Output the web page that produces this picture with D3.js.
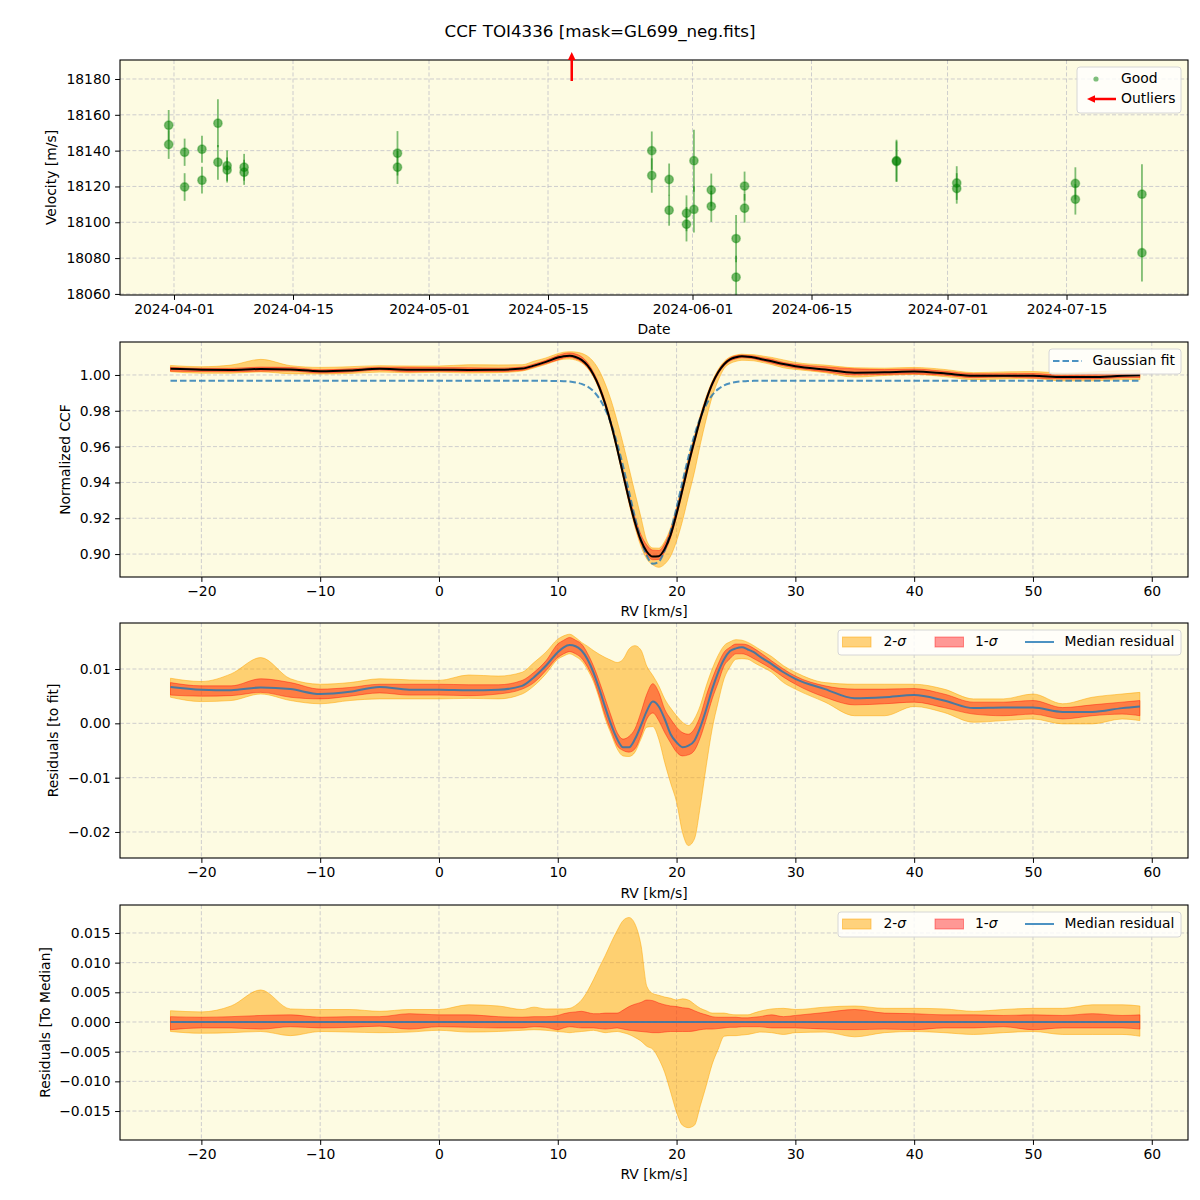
<!DOCTYPE html>
<html><head><meta charset="utf-8">
<script src="https://cdn.jsdelivr.net/npm/d3@7"></script>
<style>body{margin:0;background:#fff} svg text{font-family:"DejaVu Sans",sans-serif;fill:#000}</style>
</head><body><svg id="c" width="1200" height="1200"></svg>
<script>
// ---------- data: top panel (RV time series) ----------
const obsDates = ["2024-03-31T09:00","2024-03-31T09:00","2024-04-02T06:00","2024-04-02T06:00","2024-04-04T07:00","2024-04-04T07:00",
  "2024-04-06T04:00","2024-04-06T04:00","2024-04-07T06:00","2024-04-07T06:00","2024-04-09T06:00","2024-04-09T06:00",
  "2024-04-27T07:00","2024-04-27T07:00","2024-05-27T05:00","2024-05-27T05:00","2024-05-29T06:00","2024-05-29T06:00",
  "2024-05-31T07:00","2024-05-31T07:00","2024-06-01T04:00","2024-06-01T04:00","2024-06-03T05:00","2024-06-03T05:00",
  "2024-06-06T03:00","2024-06-06T03:00","2024-06-07T03:00","2024-06-07T03:00","2024-06-25T00:00","2024-06-25T00:00",
  "2024-07-02T02:00","2024-07-02T02:00","2024-07-16T01:00","2024-07-16T01:00","2024-07-23T21:00","2024-07-23T21:00"];
const obsRV = [18154.2,18143.4,18139.1,18119.7,18140.8,18123.5,18155.3,18133.5,18131.6,18129.2,18130.7,18127.9,
  18138.5,18130.7,18140.0,18126.1,18123.9,18106.7,18105.0,18098.9,18134.4,18107.2,18118.0,18108.9,
  18090.9,18069.3,18120.2,18107.8,18134.4,18133.9,18121.9,18118.9,18121.7,18112.8,18115.7,18083.0];
const obsErr = [8.5,8.0,7.6,7.7,7.5,7.5,13.4,9.7,8.5,7.0,7.5,7.0,12.4,9.3,10.7,9.6,8.9,8.6,10.0,9.6,17.3,12.9,9.2,8.7,
  13.2,12.0,8.1,8.0,11.7,11.3,9.4,8.5,9.0,8.5,16.7,16.0];
const outlierDates = ["2024-05-17T19:00"];
const dateTicks = ["2024-04-01","2024-04-15","2024-05-01","2024-05-15","2024-06-01","2024-06-15","2024-07-01","2024-07-15"];
const velTicks = [18060,18080,18100,18120,18140,18160,18180];

// ---------- data: CCF profiles ----------
const rvGrid = [-22.6,-20,-17.5,-15,-12.5,-10,-7.5,-5,-2.5,0,2.5,5,7,8,9,10,10.5,11,11.5,12,12.5,13,13.5,14,14.5,15,15.5,16,16.5,17,17.5,18,
  18.5,19,19.5,20,20.5,21,21.5,22,22.5,23,23.5,24,24.5,25,25.5,26,26.5,27,28,29,30,32.5,35,37.5,40,42.5,45,47.5,50,52.5,55,57.5,59];
const ccfMedian = [1.0034,1.0029,1.0028,1.0033,1.0030,1.0021,1.0025,1.0034,1.0029,1.0029,1.0028,1.0029,1.0036,1.0052,1.0073,1.0097,1.0105,1.0107,1.0100,1.0084,1.0053,1.0003,0.9931,0.9837,0.9722,0.9588,0.9445,0.9303,0.9176,0.9076,0.9013,0.8986,
  0.8988,0.9029,0.9107,0.9225,0.9360,0.9501,0.9631,0.9754,0.9861,0.9950,1.0015,1.0060,1.0087,1.0099,1.0104,1.0102,1.0098,1.0090,1.0076,1.0061,1.0049,1.0030,1.0013,1.0015,1.0019,1.0009,0.9995,0.9996,0.9996,0.9988,0.9988,0.9995,0.9998];
const gaussFit = [0.9967,0.9967,0.9967,0.9967,0.9967,0.9967,0.9967,0.9967,0.9967,0.9967,0.9967,0.9967,0.9967,0.9967,0.9967,0.9966,0.9965,0.9963,0.9958,0.9950,0.9935,0.9909,0.9868,0.9808,0.9725,0.9617,0.9489,0.9347,0.9205,0.9080,0.8990,0.8946,
  0.8957,0.9021,0.9127,0.9260,0.9404,0.9542,0.9663,0.9761,0.9835,0.9887,0.9921,0.9942,0.9954,0.9961,0.9964,0.9966,0.9967,0.9967,0.9967,0.9967,0.9967,0.9967,0.9967,0.9967,0.9967,0.9967,0.9967,0.9967,0.9967,0.9967,0.9967,0.9967,0.9967];
// residuals to fit (panel 3)
const residMedian = [0.0067,0.0062,0.0061,0.0066,0.0063,0.0054,0.0058,0.0067,0.0062,0.0062,0.0061,0.0062,0.0069,0.0085,0.0106,0.0131,0.0140,0.0144,0.0142,0.0134,0.0118,0.0094,0.0063,0.0029,-0.0003,-0.0029,-0.0044,-0.0044,-0.0029,-0.0004,0.0023,0.0040,
  0.0031,0.0008,-0.0020,-0.0035,-0.0044,-0.0041,-0.0032,-0.0007,0.0026,0.0063,0.0094,0.0118,0.0133,0.0138,0.0140,0.0136,0.0131,0.0123,0.0109,0.0094,0.0082,0.0063,0.0046,0.0048,0.0052,0.0042,0.0028,0.0029,0.0029,0.0021,0.0021,0.0028,0.0031];
const residHi2 = [0.0083,0.0077,0.0091,0.0121,0.0082,0.0072,0.0075,0.0082,0.0080,0.0079,0.0089,0.0087,0.0094,0.0112,0.0131,0.0155,0.0161,0.0164,0.0158,0.0149,0.0142,0.0134,0.0127,0.0121,0.0116,0.0112,0.0118,0.0137,0.0143,0.0135,0.0105,0.0088,
  0.0069,0.0045,0.0028,0.0014,0.0002,-0.0004,0.0008,0.0033,0.0069,0.0100,0.0125,0.0143,0.0150,0.0154,0.0153,0.0149,0.0143,0.0136,0.0123,0.0106,0.0094,0.0075,0.0072,0.0072,0.0072,0.0063,0.0045,0.0045,0.0054,0.0036,0.0048,0.0054,0.0057];
const residHi1 = [0.0075,0.0069,0.0069,0.0082,0.0075,0.0063,0.0066,0.0072,0.0072,0.0072,0.0071,0.0071,0.0079,0.0094,0.0115,0.0146,0.0153,0.0158,0.0153,0.0146,0.0129,0.0106,0.0077,0.0045,0.0013,-0.0017,-0.0029,-0.0024,-0.0010,0.0020,0.0054,0.0073,
  0.0057,0.0026,0.0008,-0.0007,-0.0017,-0.0020,-0.0010,0.0014,0.0051,0.0082,0.0109,0.0131,0.0140,0.0146,0.0146,0.0144,0.0138,0.0131,0.0115,0.0100,0.0087,0.0069,0.0063,0.0063,0.0064,0.0054,0.0039,0.0039,0.0042,0.0029,0.0034,0.0039,0.0042];
const residLo1 = [0.0052,0.0050,0.0051,0.0057,0.0048,0.0045,0.0050,0.0056,0.0052,0.0052,0.0051,0.0054,0.0063,0.0075,0.0097,0.0121,0.0128,0.0132,0.0128,0.0120,0.0104,0.0082,0.0050,0.0014,-0.0015,-0.0041,-0.0050,-0.0053,-0.0047,-0.0023,0.0008,0.0019,
  0.0005,-0.0017,-0.0036,-0.0053,-0.0060,-0.0058,-0.0050,-0.0026,0.0008,0.0045,0.0075,0.0106,0.0119,0.0128,0.0128,0.0125,0.0119,0.0113,0.0100,0.0085,0.0072,0.0048,0.0034,0.0036,0.0039,0.0029,0.0017,0.0014,0.0017,0.0008,0.0014,0.0017,0.0014];
const residLo2 = [0.0048,0.0040,0.0042,0.0054,0.0042,0.0036,0.0042,0.0045,0.0045,0.0045,0.0046,0.0045,0.0054,0.0069,0.0091,0.0118,0.0124,0.0128,0.0123,0.0115,0.0099,0.0077,0.0045,0.0008,-0.0020,-0.0047,-0.0060,-0.0061,-0.0053,-0.0029,-0.0007,-0.0006,
  -0.0029,-0.0072,-0.0110,-0.0145,-0.0201,-0.0225,-0.0213,-0.0152,-0.0078,-0.0010,0.0039,0.0082,0.0104,0.0118,0.0119,0.0118,0.0112,0.0106,0.0094,0.0075,0.0063,0.0039,0.0014,0.0014,0.0031,0.0020,0.0002,0.0005,0.0008,-0.0001,-0.0001,0.0008,0.0005];
// residuals to median (panel 4): percentile offsets around the median CCF
const dMedHi2 = [0.0019,0.0017,0.0027,0.0054,0.0022,0.0021,0.0021,0.0018,0.0021,0.0021,0.0029,0.0027,0.0021,0.0025,0.0022,0.0022,0.0022,0.0023,0.0028,0.0037,0.0052,0.0071,0.0092,0.0112,0.0134,0.0154,0.0171,0.0176,0.0165,0.0130,0.0060,0.0048,
  0.0045,0.0042,0.0040,0.0037,0.0039,0.0037,0.0030,0.0023,0.0019,0.0015,0.0015,0.0015,0.0013,0.0012,0.0012,0.0012,0.0015,0.0018,0.0022,0.0023,0.0021,0.0025,0.0027,0.0023,0.0023,0.0022,0.0018,0.0021,0.0023,0.0023,0.0029,0.0029,0.0027];
const dMedHi1 = [0.0009,0.0008,0.0009,0.0011,0.0012,0.0008,0.0009,0.0009,0.0014,0.0012,0.0012,0.0009,0.0008,0.0009,0.0009,0.0011,0.0014,0.0016,0.0017,0.0018,0.0016,0.0014,0.0014,0.0015,0.0015,0.0015,0.0020,0.0026,0.0030,0.0033,0.0037,0.0036,
  0.0032,0.0029,0.0027,0.0026,0.0024,0.0023,0.0019,0.0015,0.0012,0.0009,0.0008,0.0008,0.0008,0.0008,0.0007,0.0007,0.0008,0.0009,0.0012,0.0009,0.0011,0.0016,0.0021,0.0015,0.0014,0.0012,0.0012,0.0011,0.0012,0.0011,0.0014,0.0011,0.0012];
const dMedLo1 = [-0.0013,-0.0010,-0.0010,-0.0012,-0.0008,-0.0010,-0.0009,-0.0007,-0.0012,-0.0008,-0.0009,-0.0010,-0.0010,-0.0008,-0.0009,-0.0013,-0.0010,-0.0008,-0.0009,-0.0010,-0.0010,-0.0010,-0.0011,-0.0012,-0.0011,-0.0010,-0.0012,-0.0014,-0.0015,-0.0016,-0.0017,-0.0018,
  -0.0018,-0.0017,-0.0016,-0.0016,-0.0016,-0.0016,-0.0015,-0.0013,-0.0012,-0.0012,-0.0011,-0.0010,-0.0009,-0.0009,-0.0008,-0.0008,-0.0008,-0.0008,-0.0010,-0.0010,-0.0010,-0.0012,-0.0013,-0.0012,-0.0013,-0.0010,-0.0010,-0.0008,-0.0013,-0.0010,-0.0010,-0.0010,-0.0012];
const dMedLo2 = [-0.0016,-0.0019,-0.0018,-0.0016,-0.0023,-0.0016,-0.0017,-0.0018,-0.0017,-0.0014,-0.0017,-0.0016,-0.0014,-0.0013,-0.0014,-0.0016,-0.0017,-0.0018,-0.0017,-0.0016,-0.0015,-0.0014,-0.0016,-0.0018,-0.0017,-0.0016,-0.0018,-0.0021,-0.0026,-0.0032,-0.0041,-0.0046,
  -0.0062,-0.0085,-0.0118,-0.0152,-0.0174,-0.0178,-0.0174,-0.0141,-0.0107,-0.0071,-0.0046,-0.0024,-0.0023,-0.0023,-0.0022,-0.0021,-0.0019,-0.0017,-0.0018,-0.0021,-0.0018,-0.0017,-0.0025,-0.0018,-0.0016,-0.0018,-0.0021,-0.0018,-0.0016,-0.0021,-0.0021,-0.0021,-0.0024];
const rvTicks = [-20,-10,0,10,20,30,40,50,60];
const ccfTicks = [0.90,0.92,0.94,0.96,0.98,1.00];
const resTicks = [-0.02,-0.01,0.00,0.01];
const medTicks = [-0.015,-0.010,-0.005,0.000,0.005,0.010,0.015];

// ---------- layout ----------
const svg = d3.select("#c");
const L = 120, R = 1188, H = 235;
const tops = [60, 342, 623, 905];
const FS = "13.9px";
const BG = "#fdfbe2";
const parse = d3.utcParse("%Y-%m-%dT%H:%M");
const parseDay = d3.utcParse("%Y-%m-%d");

svg.append("text").attr("x", 600).attr("y", 32).attr("text-anchor", "middle")
  .attr("dominant-baseline", "middle").style("font-size", "16.7px").text("CCF TOI4336 [mask=GL699_neg.fits]");

function makePanel(i, x, y, xTickVals, xFmt, yTickVals, yFmt) {
  const top = tops[i], bottom = top + H;
  const g = svg.append("g");
  const clipId = "clip" + i;
  svg.append("clipPath").attr("id", clipId).append("rect").attr("x", L).attr("y", top).attr("width", R - L).attr("height", H);
  g.append("rect").attr("x", L).attr("y", top).attr("width", R - L).attr("height", H).attr("fill", BG);
  const grid = g.append("g").attr("stroke", "#b8b8c4").attr("stroke-opacity", 0.75).attr("stroke-width", 0.9).attr("stroke-dasharray", "4,2.2");
  xTickVals.forEach(t => grid.append("line").attr("x1", x(t)).attr("x2", x(t)).attr("y1", top).attr("y2", bottom));
  yTickVals.forEach(t => grid.append("line").attr("x1", L).attr("x2", R).attr("y1", y(t)).attr("y2", y(t)));
  const plot = g.append("g").attr("clip-path", `url(#${clipId})`);
  const xa = svg.append("g").attr("transform", `translate(0,${bottom})`)
    .call(d3.axisBottom(x).tickValues(xTickVals).tickFormat(xFmt).tickSize(4.9).tickPadding(4.5));
  const ya = svg.append("g").attr("transform", `translate(${L},0)`)
    .call(d3.axisLeft(y).tickValues(yTickVals).tickFormat(yFmt).tickSize(4.9).tickPadding(4.5));
  [xa, ya].forEach(a => {
    a.select(".domain").remove();
    a.selectAll("text").style("font-size", FS).style("font-family", "DejaVu Sans").attr("fill", "#000");
    a.selectAll("line").attr("stroke", "#000").attr("stroke-width", 1);
  });
  const frame = () => svg.append("rect").attr("x", L).attr("y", top).attr("width", R - L).attr("height", H)
    .attr("fill", "none").attr("stroke", "#000").attr("stroke-width", 1.1);
  return { g, plot, frame, top, bottom };
}

function axisLabel(txt, x, y, rot) {
  const t = svg.append("text").attr("text-anchor", "middle").attr("dominant-baseline", "middle").style("font-size", FS).text(txt);
  if (rot) t.attr("transform", `translate(${x},${y}) rotate(-90)`); else t.attr("x", x).attr("y", y);
}

// ---------- panel 1 ----------
const xT = d3.scaleUtc().domain([parse("2024-03-25T15:32"), parse("2024-07-29T07:00")]).range([L, R]);
const yV = d3.scaleLinear().domain([18059.4, 18190.6]).range([tops[0] + H, tops[0]]);
const p1 = makePanel(0, xT, yV, dateTicks.map(parseDay), d3.utcFormat("%Y-%m-%d"), velTicks, d3.format("d"));
const obs = obsDates.map((d, i) => ({ t: parse(d), v: obsRV[i], e: obsErr[i] }));
p1.plot.selectAll("line.eb").data(obs).join("line")
  .attr("x1", d => xT(d.t)).attr("x2", d => xT(d.t))
  .attr("y1", d => yV(d.v - d.e)).attr("y2", d => yV(d.v + d.e))
  .attr("stroke", "green").attr("stroke-opacity", 0.5).attr("stroke-width", 1.8);
p1.plot.selectAll("circle.pt").data(obs).join("circle")
  .attr("cx", d => xT(d.t)).attr("cy", d => yV(d.v)).attr("r", 4.2)
  .attr("fill", "green").attr("fill-opacity", 0.55).attr("stroke", "green").attr("stroke-opacity", 0.35).attr("stroke-width", 1.5);
p1.frame();
// outlier arrows (above the plotted range)
outlierDates.forEach(d => {
  const ax = xT(parse(d)), y0 = p1.top + 21, y1 = p1.top - 8;
  svg.append("line").attr("x1", ax).attr("x2", ax).attr("y1", y0).attr("y2", y1 + 6).attr("stroke", "red").attr("stroke-width", 2.5);
  svg.append("path").attr("d", `M${ax},${y1} L${ax - 3.8},${y1 + 8} L${ax + 3.8},${y1 + 8} Z`).attr("fill", "red");
});
axisLabel("Date", (L + R) / 2, 330, false);
axisLabel("Velocity [m/s]", 52, p1.top + H / 2, true);
// legend 1
{
  const lg = svg.append("g");
  lg.append("rect").attr("x", 1077).attr("y", 67).attr("width", 104).attr("height", 46).attr("rx", 3)
    .attr("fill", "#fff").attr("fill-opacity", 0.8).attr("stroke", "#d6d6d6");
  lg.append("circle").attr("cx", 1096).attr("cy", 79).attr("r", 2.6).attr("fill", "green").attr("fill-opacity", 0.5);
  lg.append("text").attr("x", 1121).attr("y", 79).attr("dominant-baseline", "middle").style("font-size", FS).text("Good");
  lg.append("line").attr("x1", 1116).attr("x2", 1094).attr("y1", 99).attr("y2", 99).attr("stroke", "red").attr("stroke-width", 2.5);
  lg.append("path").attr("d", "M1087,99 L1095,95.2 L1095,102.8 Z").attr("fill", "red");
  lg.append("text").attr("x", 1121).attr("y", 99).attr("dominant-baseline", "middle").style("font-size", FS).text("Outliers");
}

// ---------- shared RV scale ----------
const xR = d3.scaleLinear().domain([-26.85, 63.05]).range([L, R]);
const rvFmt = d3.format("d");
const curve = d3.curveMonotoneX;
function band(plot, y, lo, hi, color, op) {
  const area = d3.area().x((d, i) => xR(rvGrid[i])).y0((d, i) => y(lo[i])).y1((d, i) => y(hi[i])).curve(curve);
  plot.append("path").attr("d", area(rvGrid)).attr("fill", color).attr("fill-opacity", op)
    .attr("stroke", color).attr("stroke-opacity", op).attr("stroke-width", 1);
}
function line(plot, y, vals, color, op, w, dash) {
  const ln = d3.line().x((d, i) => xR(rvGrid[i])).y((d, i) => y(vals[i])).curve(curve);
  const p = plot.append("path").attr("d", ln(rvGrid)).attr("fill", "none").attr("stroke", color)
    .attr("stroke-opacity", op).attr("stroke-width", w);
  if (dash) p.attr("stroke-dasharray", dash);
}

// ---------- panel 2 ----------
const yC = d3.scaleLinear().domain([0.8872, 1.0184]).range([tops[1] + H, tops[1]]);
const p2 = makePanel(1, xR, yC, rvTicks, rvFmt, ccfTicks, d3.format(".2f"));
const add = (a, b) => a.map((v, i) => v + b[i]);
band(p2.plot, yC, add(ccfMedian, dMedLo2), add(ccfMedian, dMedHi2), "orange", 0.5);
band(p2.plot, yC, add(ccfMedian, dMedLo1), add(ccfMedian, dMedHi1), "red", 0.4);
line(p2.plot, yC, gaussFit, "#1f77b4", 0.8, 2, "6.5,3");
line(p2.plot, yC, ccfMedian, "#000", 1, 2);
p2.frame();
axisLabel("RV [km/s]", (L + R) / 2, 612, false);
axisLabel("Normalized CCF", 66, p2.top + H / 2, true);
{
  const lg = svg.append("g");
  lg.append("rect").attr("x", 1049).attr("y", 349).attr("width", 132).attr("height", 25).attr("rx", 3)
    .attr("fill", "#fff").attr("fill-opacity", 0.8).attr("stroke", "#d6d6d6");
  lg.append("line").attr("x1", 1053).attr("x2", 1082).attr("y1", 361).attr("y2", 361)
    .attr("stroke", "#1f77b4").attr("stroke-opacity", 0.8).attr("stroke-width", 2).attr("stroke-dasharray", "6.5,3");
  lg.append("text").attr("x", 1092.5).attr("y", 361).attr("dominant-baseline", "middle").style("font-size", FS).text("Gaussian fit");
}

function sigmaLegend(yTop) {
  const lg = svg.append("g");
  const cy = yTop + 12;
  lg.append("rect").attr("x", 838).attr("y", yTop).attr("width", 343).attr("height", 25).attr("rx", 3)
    .attr("fill", "#fff").attr("fill-opacity", 0.8).attr("stroke", "#d6d6d6");
  lg.append("rect").attr("x", 842.5).attr("y", cy - 5).attr("width", 28.5).attr("height", 10)
    .attr("fill", "orange").attr("fill-opacity", 0.5).attr("stroke", "orange").attr("stroke-opacity", 0.5);
  const t1 = lg.append("text").attr("x", 883.5).attr("y", cy).attr("dominant-baseline", "middle").style("font-size", FS);
  t1.append("tspan").text("2-"); t1.append("tspan").style("font-style", "italic").text("σ");
  lg.append("rect").attr("x", 935).attr("y", cy - 5).attr("width", 28.5).attr("height", 10)
    .attr("fill", "red").attr("fill-opacity", 0.4).attr("stroke", "red").attr("stroke-opacity", 0.4);
  const t2 = lg.append("text").attr("x", 975).attr("y", cy).attr("dominant-baseline", "middle").style("font-size", FS);
  t2.append("tspan").text("1-"); t2.append("tspan").style("font-style", "italic").text("σ");
  lg.append("line").attr("x1", 1025).attr("x2", 1054).attr("y1", cy).attr("y2", cy)
    .attr("stroke", "#1f77b4").attr("stroke-opacity", 0.8).attr("stroke-width", 2);
  lg.append("text").attr("x", 1064.5).attr("y", cy).attr("dominant-baseline", "middle").style("font-size", FS).text("Median residual");
}

// ---------- panel 3 ----------
const yF = d3.scaleLinear().domain([-0.02479, 0.01847]).range([tops[2] + H, tops[2]]);
const p3 = makePanel(2, xR, yF, rvTicks, rvFmt, resTicks, d3.format(".2f"));
band(p3.plot, yF, residLo2, residHi2, "orange", 0.5);
band(p3.plot, yF, residLo1, residHi1, "red", 0.4);
line(p3.plot, yF, residMedian, "#1f77b4", 0.8, 2);
p3.frame();
axisLabel("RV [km/s]", (L + R) / 2, 894, false);
axisLabel("Residuals [to fit]", 54, p3.top + H / 2, true);
sigmaLegend(630);

// ---------- panel 4 ----------
const yM = d3.scaleLinear().domain([-0.01988, 0.01971]).range([tops[3] + H, tops[3]]);
const p4 = makePanel(3, xR, yM, rvTicks, rvFmt, medTicks, d3.format(".3f"));
band(p4.plot, yM, dMedLo2, dMedHi2, "orange", 0.5);
band(p4.plot, yM, dMedLo1, dMedHi1, "red", 0.4);
p4.plot.append("line").attr("x1", xR(rvGrid[0])).attr("x2", xR(rvGrid[rvGrid.length - 1]))
  .attr("y1", yM(0)).attr("y2", yM(0)).attr("stroke", "#1f77b4").attr("stroke-opacity", 0.8).attr("stroke-width", 2);
p4.frame();
axisLabel("RV [km/s]", (L + R) / 2, 1175, false);
axisLabel("Residuals [To Median]", 46, p4.top + H / 2, true);
sigmaLegend(912);
</script></body></html>
